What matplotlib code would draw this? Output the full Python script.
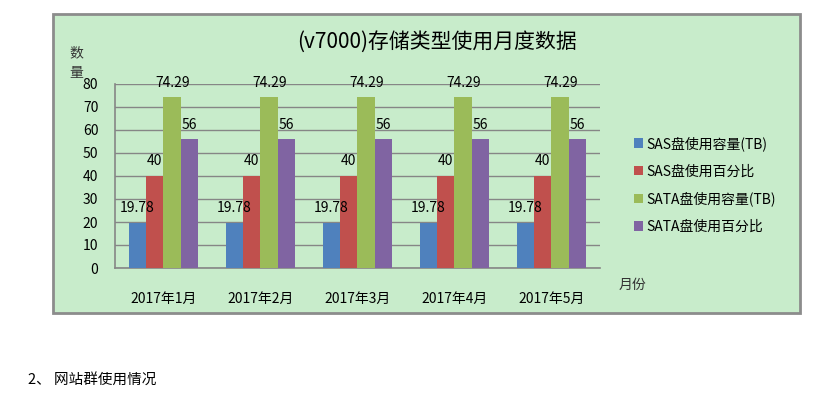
import numpy as np
import matplotlib
matplotlib.use('Agg')
import matplotlib.pyplot as plt
from matplotlib.patches import Rectangle

plt.rcParams['font.family'] = ['Noto Sans CJK SC', 'DejaVu Sans']

# data
months = ['2017年1月', '2017年2月', '2017年3月', '2017年4月', '2017年5月']
series_names = ['SAS盘使用容量(TB)', 'SAS盘使用百分比', 'SATA盘使用容量(TB)', 'SATA盘使用百分比']
sas_tb = [19.78, 19.78, 19.78, 19.78, 19.78]
sas_pct = [40, 40, 40, 40, 40]
sata_tb = [74.29, 74.29, 74.29, 74.29, 74.29]
sata_pct = [56, 56, 56, 56, 56]
colors = ['#4F81BD', '#C0504D', '#9BBB59', '#8064A2']

W, H = 837, 393
bg = '#C8ECCB'

fig = plt.figure(figsize=(W / 100, H / 100), dpi=100)
fig.patch.set_facecolor('white')

# chart frame (behind the axes)
fig.patches.append(Rectangle((53 / W, 1 - 313 / H), 747 / W, 299 / H,
                             transform=fig.transFigure, facecolor=bg,
                             edgecolor='#8C8C8C', linewidth=2, zorder=-5))

ax = fig.add_axes([115 / W, 1 - 268 / H, 485 / W, 184 / H])
ax.set_zorder(2)
ax.set_facecolor(bg)

x = np.arange(len(months))
bw = 0.18
all_series = [sas_tb, sas_pct, sata_tb, sata_pct]
for i, (vals, name, c) in enumerate(zip(all_series, series_names, colors)):
    pos = x + (i - 1.5) * bw
    ax.bar(pos, vals, width=bw, color=c, label=name, zorder=3)
    for p, v in zip(pos, vals):
        ax.annotate(f'{v:g}', (p, v), xytext=(0, 10.5), textcoords='offset points',
                    ha='center', va='center', fontsize=10, color='black', zorder=4,
                    annotation_clip=False)

ax.set_xlim(-0.5, len(months) - 0.5)
ax.set_ylim(0, 80)
ax.set_yticks(range(0, 81, 10))
ax.set_xticks(x)
ax.set_xticklabels(months, fontsize=10)
ax.tick_params(axis='x', length=0, pad=17)
ax.tick_params(axis='y', length=0, pad=12, labelsize=10)
ax.yaxis.grid(True, color='#868686', linewidth=1, zorder=1)
ax.set_axisbelow(True)
for s in ['top', 'right']:
    ax.spines[s].set_visible(False)
for s in ['left', 'bottom']:
    ax.spines[s].set_color('#868686')
    ax.spines[s].set_linewidth(1.2)

fig.text(437 / W, 1 - 42 / H, '(v7000)存储类型使用月度数据', ha='center', va='center',
         fontsize=15)
fig.text(76 / W, 1 - 53 / H, '数', ha='center', va='center', fontsize=10, color='#333333')
fig.text(76 / W, 1 - 73 / H, '量', ha='center', va='center', fontsize=10, color='#333333')
fig.text(632 / W, 1 - 285 / H, '月份', ha='center', va='center', fontsize=10, color='#333333')
fig.text(28 / W, 1 - 380 / H, '2、 网站群使用情况', ha='left', va='center', fontsize=10.5)

fig.legend(loc='center left', bbox_to_anchor=(628 / W, 1 - 185 / H), frameon=False,
           fontsize=10, handlelength=0.7, handleheight=0.7, handletextpad=0.2,
           labelspacing=0.95, borderaxespad=0)

fig.savefig('out.png', dpi=100, facecolor='white')
